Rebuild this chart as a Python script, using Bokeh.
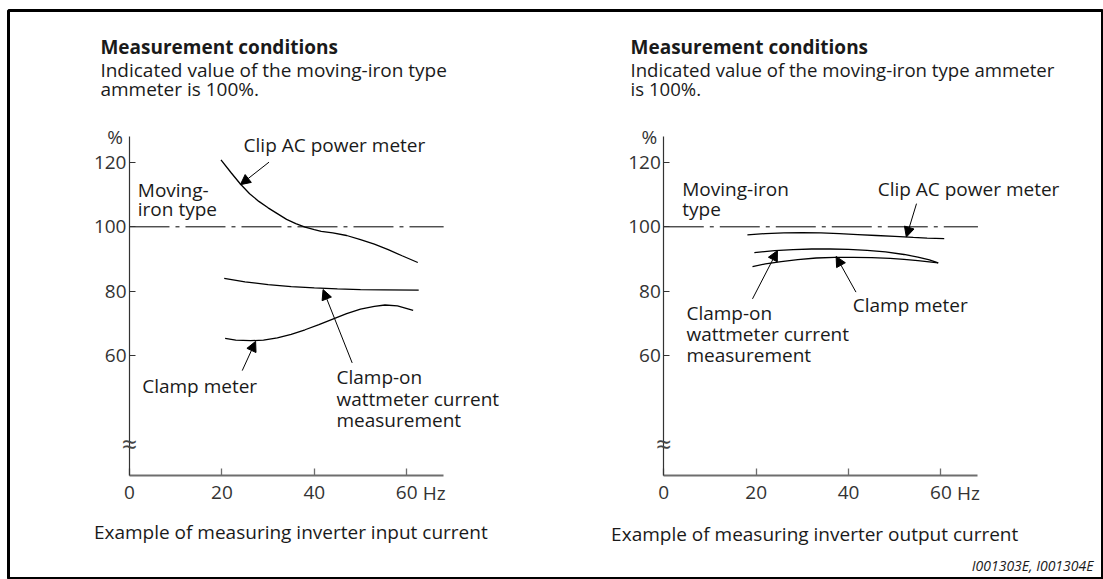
from bokeh.plotting import figure
from bokeh.models import Label, Arrow, NormalHead, FixedTicker, Range1d, LinearAxis
from bokeh.embed import file_html
from bokeh.resources import INLINE

FONT = "Open Sans"
TEXT_COLOR = "#1a1a1a"
TICK_COLOR = "#333333"

# ---------------- data ----------------
x_ticks = [0, 20, 40, 60]
y_ticks = [60, 80, 100, 120]
x_tick_labels = {0: "0", 20: "20", 40: "40", 60: "60"}
x_unit = "Hz"
y_unit = "%"
reference_hz = [0, 68]
reference_pct = [100, 100]

# Left panel: inverter input current
in_clip_hz = [19.8, 22, 24, 26, 28, 30, 32, 34, 36, 38, 40, 41.5, 44, 47, 50, 53, 56, 59, 62.4]
in_clip_pct = [120.8, 116.8, 113.3, 110.3, 107.9, 105.9, 104.1, 102.3, 101.0, 99.9, 99.1, 98.6, 98.1, 97.3, 96.0, 94.6, 92.9, 91.0, 88.9]

in_watt_hz = [20.5, 25, 30, 35, 40, 45, 50, 55, 62.6]
in_watt_pct = [84.0, 82.9, 82.0, 81.4, 81.0, 80.7, 80.5, 80.4, 80.3]

in_clamp_hz = [20.7, 23, 26.2, 29, 32, 35, 38, 41, 44, 47, 50, 53, 55.3, 58, 61.4]
in_clamp_pct = [65.3, 64.8, 64.6, 64.8, 65.5, 66.6, 68.0, 69.6, 71.3, 73.0, 74.4, 75.3, 75.7, 75.4, 74.0]

# Right panel: inverter output current
out_clip_hz = [18.1, 22, 26, 30, 34, 38, 42, 46, 50, 54, 57, 60.7]
out_clip_pct = [97.5, 97.9, 98.1, 98.2, 98.1, 97.9, 97.6, 97.3, 97.0, 96.7, 96.5, 96.3]

out_watt_hz = [19.6, 24, 28, 32, 36, 40, 44, 48, 52, 55, 57.5, 59.4]
out_watt_pct = [92.0, 92.6, 92.9, 93.1, 93.1, 93.0, 92.7, 92.2, 91.4, 90.6, 89.7, 88.8]

out_clamp_hz = [19.2, 22, 25.4, 29, 33, 37, 41, 45, 49, 52, 55, 59.4]
out_clamp_pct = [87.6, 88.5, 89.2, 89.8, 90.3, 90.5, 90.5, 90.4, 90.2, 89.9, 89.5, 88.8]

header_title = "Measurement conditions"
left_header = ["Indicated value of the moving-iron type", "ammeter is 100%."]
right_header = ["Indicated value of the moving-iron type ammeter", "is 100%."]
left_caption = "Example of measuring inverter input current"
right_caption = "Example of measuring inverter output current"
figure_id = "I001303E, I001304E"

X_MAX = 68
Y_MIN, Y_MAX = 22.6, 128.1

p = figure(width=1103, height=579,
           x_range=Range1d(-26.19, 210.61), y_range=Range1d(-9.63, 167.24),
           output_backend="svg", toolbar_location=None,
           min_border_left=8, min_border_right=1,
           min_border_top=10, min_border_bottom=0)
p.extra_x_ranges = {"right": Range1d(-141.84, 94.96)}
p.xgrid.visible = False
p.ygrid.visible = False
p.outline_line_color = "black"
p.outline_line_width = 3
p.background_fill_color = "white"
p.border_fill_color = "white"


def style_x(ax):
    ax.ticker = FixedTicker(ticks=x_ticks)
    ax.major_label_overrides = x_tick_labels
    ax.fixed_location = Y_MIN
    ax.bounds = (0, X_MAX)
    ax.axis_line_color = "#6e6e6e"
    ax.axis_line_width = 2
    ax.major_tick_in = 7
    ax.major_tick_out = 0
    ax.major_tick_line_color = "#6e6e6e"
    ax.major_tick_line_width = 1.3
    ax.minor_tick_in = 0
    ax.minor_tick_out = 0
    ax.major_label_standoff = 10
    ax.major_label_text_font = FONT
    ax.major_label_text_font_size = "19px"
    ax.major_label_text_color = TICK_COLOR


def style_y(ax):
    ax.ticker = FixedTicker(ticks=y_ticks)
    ax.fixed_location = 0
    ax.bounds = (Y_MIN, Y_MAX)
    ax.axis_line_color = "#333333"
    ax.axis_line_width = 1.2
    ax.major_tick_in = 6
    ax.major_tick_out = 0
    ax.major_tick_line_color = "#333333"
    ax.major_tick_line_width = 1.2
    ax.minor_tick_in = 0
    ax.minor_tick_out = 0
    ax.major_label_standoff = 3
    ax.major_label_text_font = FONT
    ax.major_label_text_font_size = "19px"
    ax.major_label_text_color = TICK_COLOR


style_x(p.xaxis[0])
style_y(p.yaxis[0])
rx = LinearAxis(x_range_name="right")
style_x(rx)
p.add_layout(rx, "below")
ry = LinearAxis(x_range_name="right")
style_y(ry)
p.add_layout(ry, "left")


def txt(x, y, text, rng="default", size="19px", align="left", style="normal", color=TEXT_COLOR):
    p.add_layout(Label(x=x, y=y, text=text, x_range_name=rng, text_font=FONT, text_font_size=size,
                       text_align=align, text_baseline="middle", text_font_style=style,
                       text_color=color))


def arrow(xs, ys, xe, ye, rng="default"):
    p.add_layout(Arrow(end=NormalHead(size=10, fill_color="black", line_color="black", line_width=1),
                       x_start=xs, y_start=ys, x_end=xe, y_end=ye, x_range_name=rng,
                       line_color="black", line_width=1))


def panel_common(rng):
    p.line(reference_hz, reference_pct, x_range_name=rng, line_color="black",
           line_width=1, line_dash="40 6 4 6")
    txt(-1.4, 127.8, y_unit, rng=rng, align="right", color=TICK_COLOR)
    p.add_layout(Label(x=60, y=Y_MIN, y_offset=-17, x_offset=16, text=x_unit, x_range_name=rng,
                       text_font=FONT, text_font_size="19px", text_align="left",
                       text_baseline="middle", text_color=TICK_COLOR))
    txt(0, 32.7, "≈", rng=rng, size="27px", align="center", color="#444444")


# ---------------- left panel ----------------
for hz, pct in [(in_clip_hz, in_clip_pct), (in_watt_hz, in_watt_pct), (in_clamp_hz, in_clamp_pct)]:
    p.line(hz, pct, line_color="black", line_width=1.3)
panel_common("default")
txt(-6.3, 156.0, header_title, style="bold")
txt(-6.3, 148.9, left_header[0])
txt(-6.3, 142.9, left_header[1])
txt(24.7, 125.3, "Clip AC power meter")
txt(1.8, 111.5, "Moving-")
txt(1.8, 105.6, "iron type")
txt(2.75, 50.4, "Clamp meter")
txt(44.8, 53.25, "Clamp-on")
txt(44.8, 46.5, "wattmeter current")
txt(44.8, 40.0, "measurement")
txt(-7.7, 5.1, left_caption)
arrow(30.2, 120.1, 24.0, 113.1)
arrow(48.2, 57.7, 41.9, 80.5)
arrow(24.4, 55.3, 27.3, 64.4)

# ---------------- right panel ----------------
for hz, pct in [(out_clip_hz, out_clip_pct), (out_watt_hz, out_watt_pct), (out_clamp_hz, out_clamp_pct)]:
    p.line(hz, pct, x_range_name="right", line_color="black", line_width=1.3)
panel_common("right")
txt(-7.2, 156.0, header_title, rng="right", style="bold")
txt(-7.2, 148.9, right_header[0], rng="right", size="18.6px")
txt(-7.2, 142.9, right_header[1], rng="right", size="18.6px")
txt(4.0, 111.8, "Moving-iron", rng="right")
txt(4.0, 105.4, "type", rng="right")
txt(46.3, 111.8, "Clip AC power meter", rng="right")
txt(40.9, 75.8, "Clamp meter", rng="right")
txt(4.9, 73.3, "Clamp-on", rng="right")
txt(4.9, 66.6, "wattmeter current", rng="right")
txt(4.9, 60.0, "measurement", rng="right")
txt(-11.4, 4.6, right_caption, rng="right")
txt(93.0, -5.3, figure_id, rng="right", size="14px", align="right", style="italic")
arrow(54.7, 107.2, 52.5, 96.8, rng="right")
arrow(41.6, 79.7, 37.3, 90.8, rng="right")
arrow(19.2, 77.6, 24.6, 92.6, rng="right")

open("out.html", "w").write(file_html(p, INLINE))
